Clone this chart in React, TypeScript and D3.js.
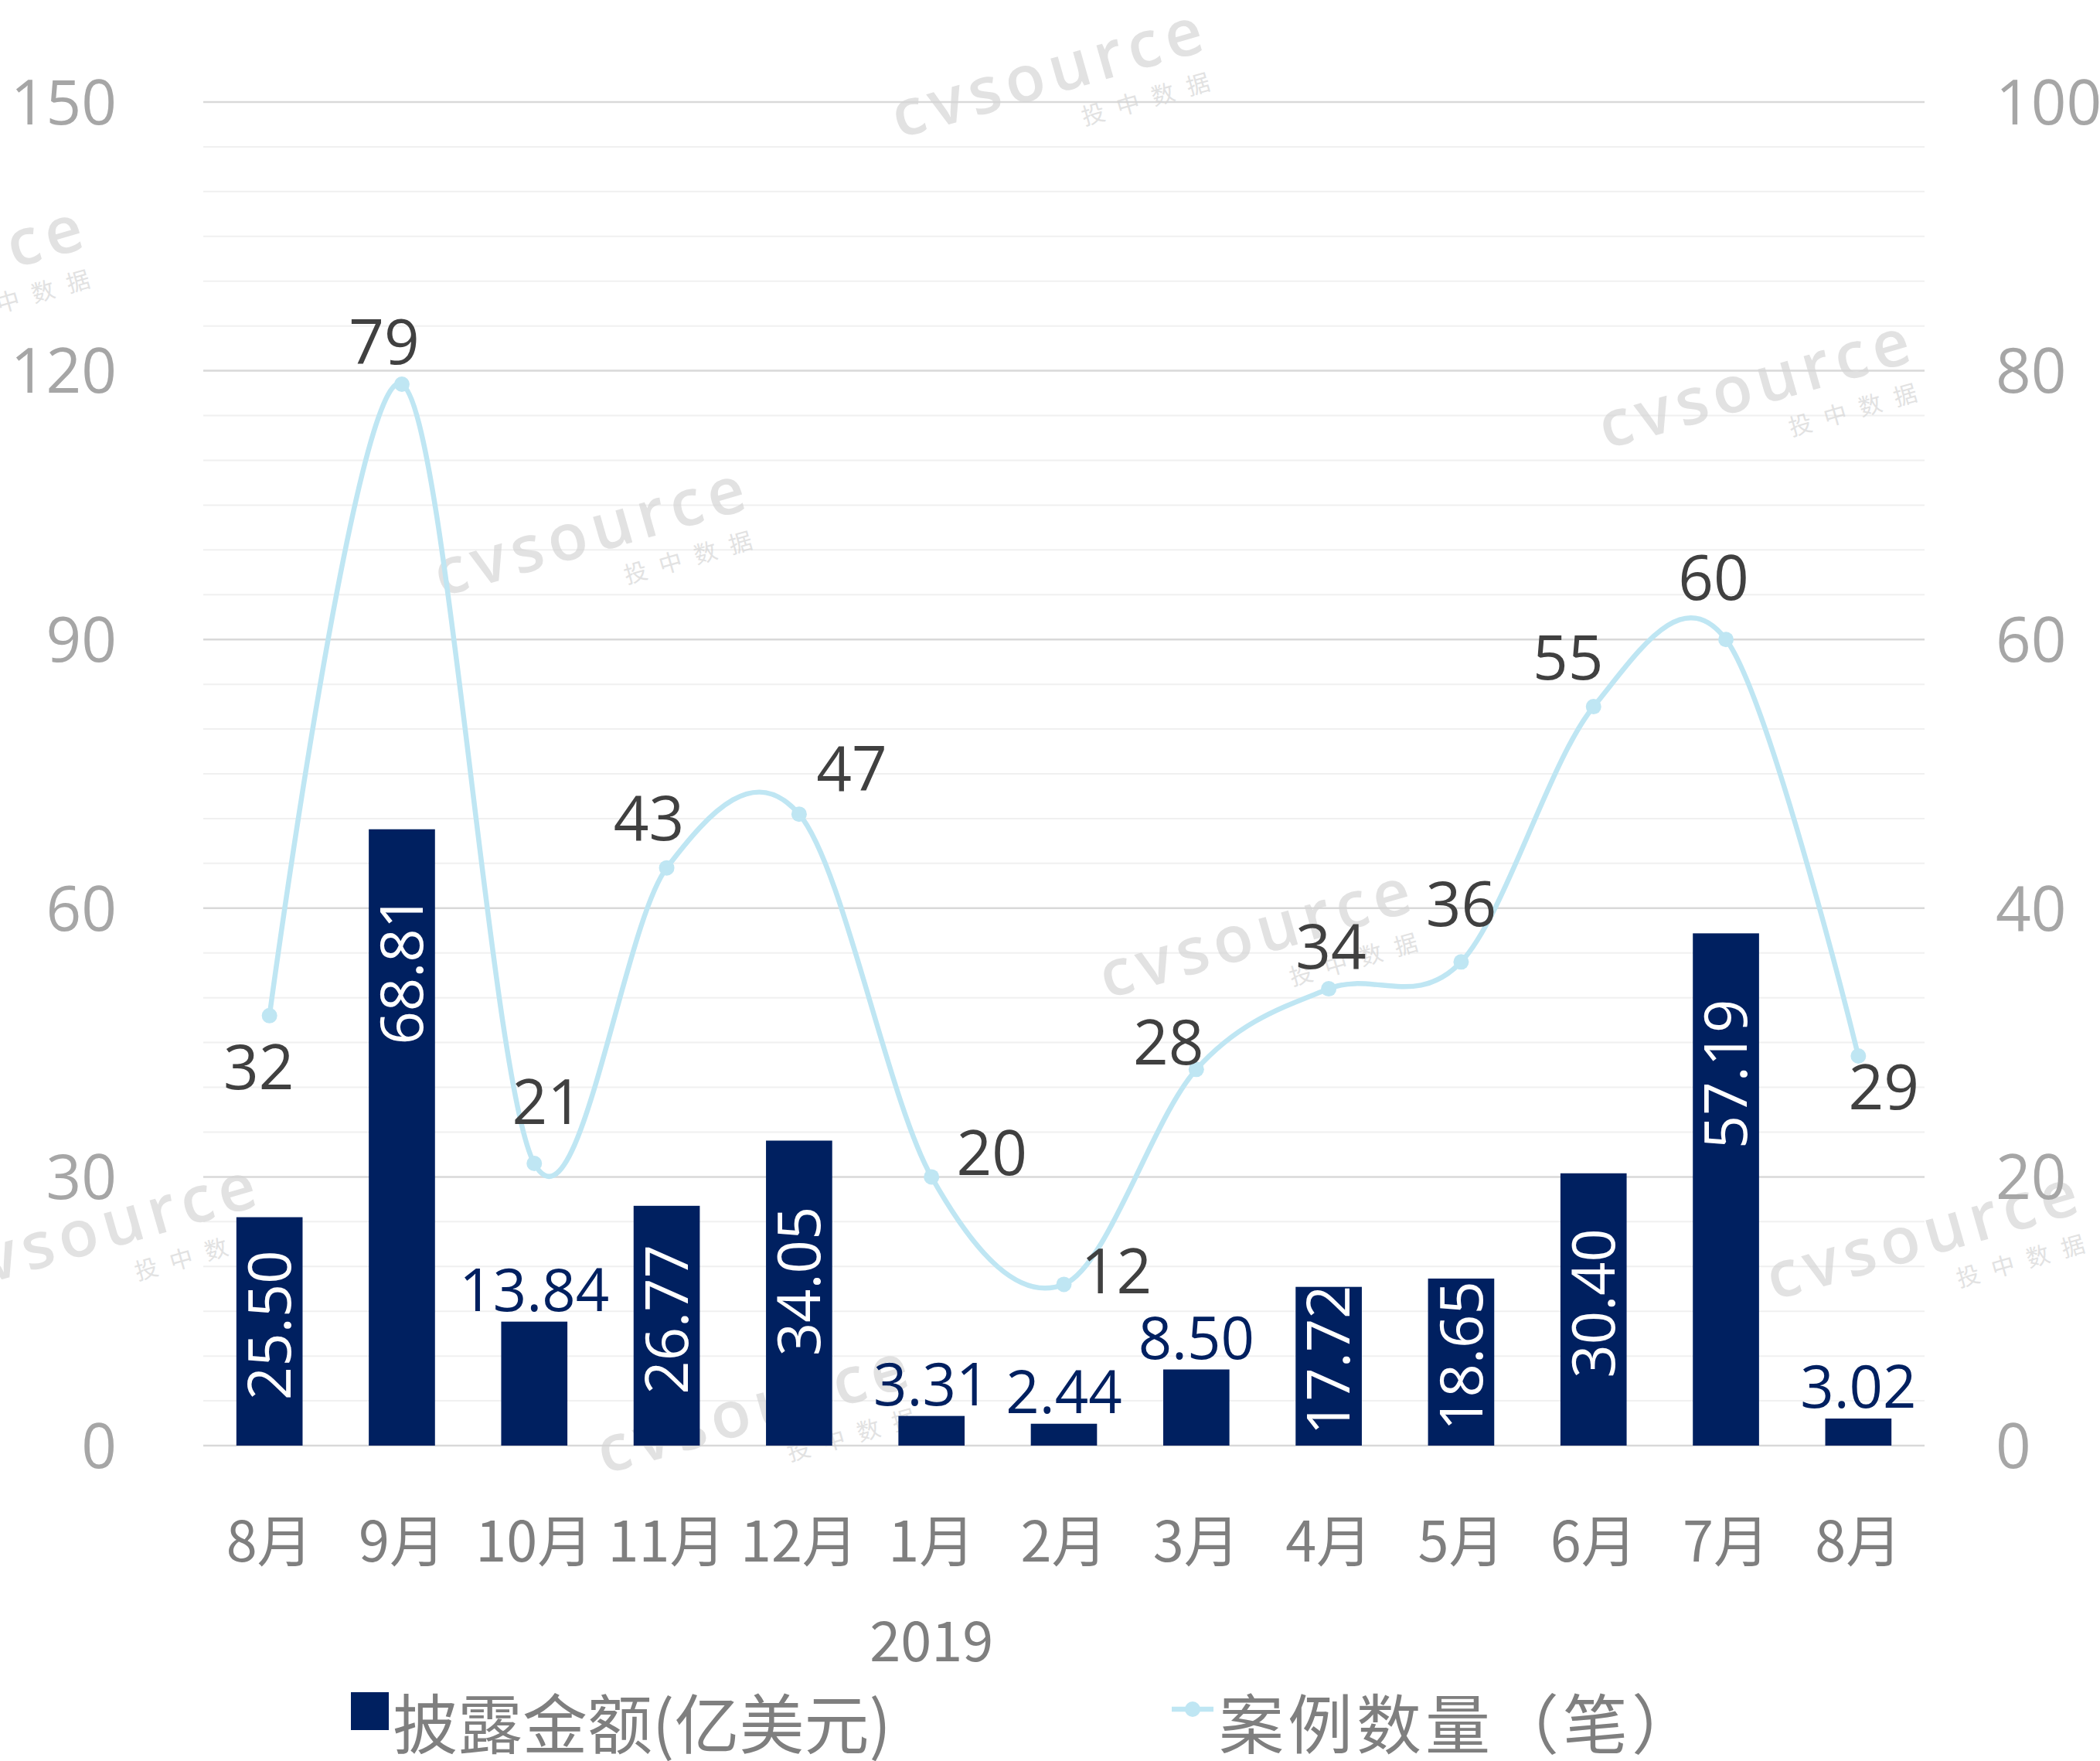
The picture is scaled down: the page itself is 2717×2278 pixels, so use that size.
import React, { useRef, useEffect } from "react";
import * as d3 from "d3";

// 数据
const months = ["8月", "9月", "10月", "11月", "12月", "1月", "2月", "3月", "4月", "5月", "6月", "7月", "8月"];
const amounts = [25.5, 68.81, 13.84, 26.77, 34.05, 3.31, 2.44, 8.5, 17.72, 18.65, 30.4, 57.19, 3.02];
const dealCounts = [32, 79, 21, 43, 47, 20, 12, 28, 34, 36, 55, 60, 29];
const leftTicks = [0, 30, 60, 90, 120, 150];
const rightTicks = [0, 20, 40, 60, 80, 100];
const yearLabel = "2019";
const yearStartIndex = 5;
const seriesNames = ["披露金额(亿美元)", "案例数量（笔）"];

// 数据标签偏移 (px, 相对于点)
const countLabelOffsets: [number, number][] = [
  [-14, 66], [-23, -55], [17, -80], [-23, -64], [68, -59], [78, -31], [68, -17],
  [-36, -35], [3, -55], [0, -75], [-33, -64], [-16, -80], [33, 40],
];

// 水印
const watermarks: [number, number][] = [
  [1360, 100], [768, 693], [2275, 502], [1629, 1213], [135, 1594], [2492, 1603], [979, 1828], [-89, 355],
];

const W = 2717;
const H = 2278;
const NAVY = "#002060";
const LINE = "#bfe6f3";
const NUM_FONT = "'Open Sans', 'Segoe UI', sans-serif";
const CJK_FONT = "'Noto Sans CJK SC', 'Noto Sans', sans-serif";

const App = () => {
  const svgRef = useRef<SVGSVGElement>(null);

  useEffect(() => {
    if (!svgRef.current) return;
    const svg = d3.select(svgRef.current);
    svg.selectAll("*").remove();

    const left = 263, right = 2490, top = 132, bottom = 1870;

    const x = d3
      .scaleBand<number>()
      .domain(months.map((_, i) => i))
      .range([left, right])
      .paddingInner(0.5)
      .paddingOuter(0.25);
    const cx = (i: number) => (x(i) as number) + x.bandwidth() / 2;

    const yL = d3.scaleLinear().domain([0, 150]).range([bottom, top]);
    const yR = d3.scaleLinear().domain([0, 100]).range([bottom, top]);

    // 网格线
    svg
      .append("g")
      .selectAll("line")
      .data(d3.range(0, 151, 5))
      .enter()
      .append("line")
      .attr("x1", left)
      .attr("x2", right)
      .attr("y1", (d) => yL(d))
      .attr("y2", (d) => yL(d))
      .attr("stroke", (d) => (d % 30 === 0 ? "#d9d9d9" : "#f0f0f0"))
      .attr("stroke-width", (d) => (d % 30 === 0 ? 2.5 : 2));

    // 水印
    const wm = svg
      .append("g")
      .selectAll("g")
      .data(watermarks)
      .enter()
      .append("g")
      .attr("transform", (d) => `translate(${d[0]},${d[1]}) rotate(-16)`)
      .attr("opacity", 0.7);
    wm.append("text")
      .attr("text-anchor", "middle")
      .attr("y", 22)
      .attr("font-family", NUM_FONT)
      .attr("font-weight", 600)
      .attr("font-size", 84)
      .attr("letter-spacing", 8)
      .attr("fill", "#d6d6d6")
      .text("cvsource");
    wm.append("text")
      .attr("text-anchor", "middle")
      .attr("x", 118)
      .attr("y", 72)
      .attr("font-family", CJK_FONT)
      .attr("font-size", 30)
      .attr("letter-spacing", 17)
      .attr("fill", "#d6d6d6")
      .text("投中数据");

    // 柱
    svg
      .append("g")
      .selectAll("rect")
      .data(amounts)
      .enter()
      .append("rect")
      .attr("x", (_, i) => x(i) as number)
      .attr("y", (d) => yL(d))
      .attr("width", x.bandwidth())
      .attr("height", (d) => bottom - yL(d))
      .attr("fill", NAVY);

    // 柱标签
    amounts.forEach((v, i) => {
      const h = bottom - yL(v);
      if (h > 195) {
        const cy = yL(v) + Math.min(h / 2 - 8, 182);
        svg
          .append("text")
          .attr("transform", `translate(${cx(i)},${cy}) rotate(-90)`)
          .attr("text-anchor", "middle")
          .attr("dy", "0.36em")
          .attr("font-family", NUM_FONT)
          .attr("font-size", 76)
          .attr("fill", "#ffffff")
          .text(v.toFixed(2));
      } else {
        svg
          .append("text")
          .attr("x", cx(i))
          .attr("y", yL(v) - 14)
          .attr("text-anchor", "middle")
          .attr("font-family", NUM_FONT)
          .attr("font-size", 76)
          .attr("fill", NAVY)
          .text(v.toFixed(2));
      }
    });

    // 折线
    const line = d3
      .line<number>()
      .x((_, i) => cx(i))
      .y((d) => yR(d))
      .curve(d3.curveCatmullRom.alpha(0));

    svg
      .append("path")
      .datum(dealCounts)
      .attr("d", line)
      .attr("fill", "none")
      .attr("stroke", LINE)
      .attr("stroke-width", 6.5);

    svg
      .append("g")
      .selectAll("circle")
      .data(dealCounts)
      .enter()
      .append("circle")
      .attr("cx", (_, i) => cx(i))
      .attr("cy", (d) => yR(d))
      .attr("r", 10)
      .attr("fill", LINE);

    svg
      .append("g")
      .selectAll("text")
      .data(dealCounts)
      .enter()
      .append("text")
      .attr("x", (_, i) => cx(i) + countLabelOffsets[i][0])
      .attr("y", (d, i) => yR(d) + countLabelOffsets[i][1])
      .attr("dy", "0.36em")
      .attr("text-anchor", "middle")
      .attr("font-family", NUM_FONT)
      .attr("font-size", 80)
      .attr("fill", "#404040")
      .text((d) => d);

    // 坐标轴标签
    svg
      .append("g")
      .selectAll("text")
      .data(leftTicks)
      .enter()
      .append("text")
      .attr("x", 151)
      .attr("y", (d) => yL(d))
      .attr("dy", "0.36em")
      .attr("text-anchor", "end")
      .attr("font-family", NUM_FONT)
      .attr("font-size", 80)
      .attr("fill", "#a6a6a6")
      .text((d) => d);

    svg
      .append("g")
      .selectAll("text")
      .data(rightTicks)
      .enter()
      .append("text")
      .attr("x", 2582)
      .attr("y", (d) => yR(d))
      .attr("dy", "0.36em")
      .attr("text-anchor", "start")
      .attr("font-family", NUM_FONT)
      .attr("font-size", 80)
      .attr("fill", "#a6a6a6")
      .text((d) => d);

    svg
      .append("g")
      .selectAll("text")
      .data(months)
      .enter()
      .append("text")
      .attr("x", (_, i) => cx(i))
      .attr("y", 2020)
      .attr("text-anchor", "middle")
      .attr("font-family", CJK_FONT)
      .attr("font-size", 72)
      .attr("fill", "#7f7f7f")
      .text((d) => d);

    svg
      .append("text")
      .attr("x", cx(yearStartIndex))
      .attr("y", 2149)
      .attr("text-anchor", "middle")
      .attr("font-family", CJK_FONT)
      .attr("font-size", 72)
      .attr("fill", "#7f7f7f")
      .text(yearLabel);

    // 图例
    const legend = svg.append("g");
    legend
      .append("rect")
      .attr("x", 454)
      .attr("y", 2189)
      .attr("width", 49)
      .attr("height", 49)
      .attr("fill", NAVY);
    legend
      .append("text")
      .attr("x", 508)
      .attr("y", 2262)
      .attr("font-family", CJK_FONT)
      .attr("font-size", 84)
      .attr("fill", "#7f7f7f")
      .text(seriesNames[0]);

    legend
      .append("line")
      .attr("x1", 1516)
      .attr("x2", 1570)
      .attr("y1", 2211)
      .attr("y2", 2211)
      .attr("stroke", LINE)
      .attr("stroke-width", 6.5);
    legend
      .append("circle")
      .attr("cx", 1543)
      .attr("cy", 2211)
      .attr("r", 10)
      .attr("fill", LINE);
    legend
      .append("text")
      .attr("x", 1577)
      .attr("y", 2262)
      .attr("font-family", CJK_FONT)
      .attr("font-size", 84)
      .attr("letter-spacing", 5)
      .attr("fill", "#7f7f7f")
      .text(seriesNames[1]);
  }, []);

  return (
    <div style={{ position: "absolute", left: 0, top: 0, background: "#fff" }}>
      <svg ref={svgRef} width={W} height={H} style={{ display: "block" }}></svg>
    </div>
  );
};

export default App;
